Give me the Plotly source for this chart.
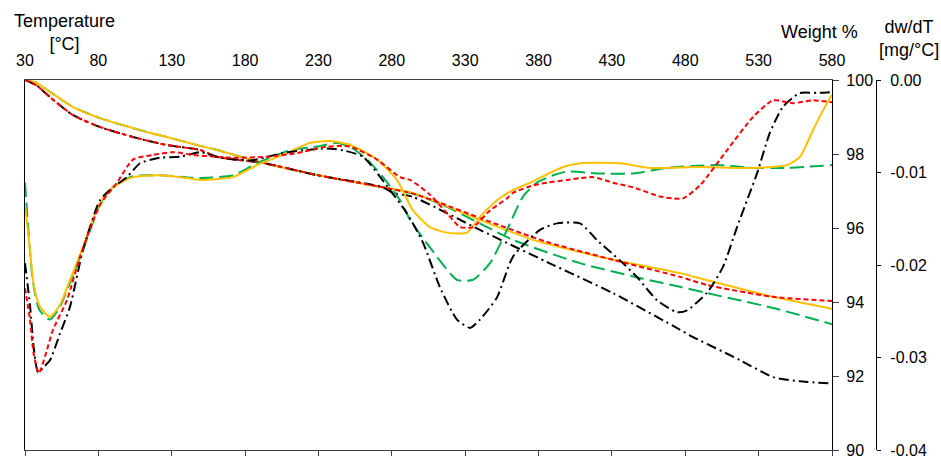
import plotly.graph_objects as go

# ---------------- data ----------------
x_ticks = [30, 80, 130, 180, 230, 280, 330, 380, 430, 480, 530, 580]
w_ticks = [90, 92, 94, 96, 98, 100]
d_ticks = [-0.04, -0.03, -0.02, -0.01, 0.0]
d_tick_text = ["-0.04", "-0.03", "-0.02", "-0.01", "0.00"]

# TG curves (Weight %)
black_tg_t = [30, 38, 47, 62.7, 81.1, 103.6, 126.8, 149.3, 160.9, 192.2, 229, 274, 280.8, 294.4, 340, 385.8, 430.7, 476.4, 483, 517.3, 539.8, 560, 580]
black_tg_w = [100, 99.85, 99.54, 99.05, 98.73, 98.46, 98.24, 98.11, 97.92, 97.76, 97.43, 97.10, 96.95, 96.84, 95.95, 95.08, 94.24, 93.25, 93.1, 92.43, 91.97, 91.85, 91.8]

red_tg_t = [30, 38, 47, 62.7, 81.1, 103.6, 126.8, 149.3, 160.9, 192.2, 229, 274, 294.4, 312.8, 340, 385.8, 430.7, 476.4, 494.8, 539.8, 580]
red_tg_w = [100, 99.85, 99.54, 99.05, 98.73, 98.46, 98.24, 98.11, 97.92, 97.76, 97.43, 97.10, 96.93, 96.68, 96.27, 95.62, 95.14, 94.68, 94.46, 94.14, 94.03]

orange_tg_t = [30, 38, 47, 62.7, 81.1, 103.6, 115.2, 126.8, 149.3, 160.9, 192.2, 229, 274, 294.4, 340, 376.2, 430.7, 449, 476.4, 494.8, 539.8, 580]
orange_tg_w = [100, 99.92, 99.68, 99.27, 98.97, 98.70, 98.57, 98.46, 98.22, 98.11, 97.76, 97.43, 97.10, 96.95, 96.22, 95.68, 95.14, 95.0, 94.78, 94.59, 94.14, 93.82]

green_tg_t = [30, 38, 47, 62.7, 81.1, 103.6, 115.2, 126.8, 149.3, 160.9, 192.2, 229, 274, 294.4, 317.6, 362.6, 408.2, 449, 476.4, 494.8, 539.8, 580]
green_tg_w = [100, 99.92, 99.68, 99.27, 98.97, 98.70, 98.57, 98.46, 98.22, 98.11, 97.76, 97.43, 97.10, 96.93, 96.57, 95.68, 95.05, 94.65, 94.41, 94.24, 93.84, 93.40]

# DTG curves (dw/dT, mg/°C)
black_dtg_t = [30, 33.5, 36, 38.9, 43, 47, 53.9, 60.7, 69.5, 81.1, 90, 99.5, 108.4, 122, 135.6, 149.3, 160.9, 183.3, 205.8, 219.5, 235.8, 246.7, 260.4, 278.8, 290.3, 301.3, 312.8, 324.4, 333.3, 340.1, 351.7, 362.6, 381, 392.6, 408.3, 419.8, 435.5, 447.1, 460.7, 474.4, 481.2, 494.8, 505.7, 515.3, 522.1, 528.9, 537.7, 546.6, 558.2, 569.8, 580]
black_dtg_v = [-0.0198, -0.0245, -0.0290, -0.0316, -0.0310, -0.0303, -0.0274, -0.0245, -0.0184, -0.0130, -0.0116, -0.0105, -0.0090, -0.0084, -0.0083, -0.0078, -0.0083, -0.0087, -0.0079, -0.0076, -0.0074, -0.0076, -0.0083, -0.0119, -0.0144, -0.0176, -0.0224, -0.0259, -0.0268, -0.0259, -0.0235, -0.0191, -0.0162, -0.0155, -0.0155, -0.0173, -0.0195, -0.0213, -0.0238, -0.0251, -0.0249, -0.0230, -0.0202, -0.0159, -0.0130, -0.0101, -0.0057, -0.0029, -0.0014, -0.0014, -0.0013]

red_dtg_t = [30, 33.4, 36, 39.5, 44, 49.1, 58.6, 67.5, 81.1, 92.7, 103.6, 117.2, 130.9, 144.5, 160, 171.8, 194.9, 215.4, 235.8, 251.5, 269.9, 285.6, 292.4, 306, 317.6, 326.5, 335.3, 346.9, 358.5, 362.6, 376.2, 385.8, 399.4, 408.3, 417.1, 430.7, 444.4, 462.8, 471.6, 478.5, 490, 508.4, 526.2, 539.8, 553.4, 567.1, 580]
red_dtg_v = [-0.0225, -0.0259, -0.0297, -0.0317, -0.0297, -0.0270, -0.0238, -0.0191, -0.0135, -0.0111, -0.0086, -0.0081, -0.0078, -0.0081, -0.0083, -0.0084, -0.0083, -0.0079, -0.0072, -0.0072, -0.0086, -0.0105, -0.0108, -0.0124, -0.0144, -0.0159, -0.0159, -0.0141, -0.0128, -0.0122, -0.0114, -0.0111, -0.0108, -0.0106, -0.0105, -0.0111, -0.0116, -0.0126, -0.0128, -0.0128, -0.0114, -0.0076, -0.0040, -0.0022, -0.0025, -0.0022, -0.0024]

orange_dtg_t = [30, 33.4, 36, 40.2, 47, 53.9, 60.7, 67.5, 81.1, 90, 103.6, 122, 140.4, 149.3, 171.8, 188.1, 205.8, 224.2, 237.9, 251.5, 269.9, 283.5, 294.4, 306, 317.6, 331.2, 340.1, 351.7, 362.6, 374.2, 396.7, 408.3, 435.5, 456, 490, 524.1, 549.3, 558.2, 567.1, 576.6, 580]
orange_dtg_v = [-0.0135, -0.0184, -0.0222, -0.0245, -0.0256, -0.0243, -0.0216, -0.0189, -0.0133, -0.0116, -0.0105, -0.0103, -0.0106, -0.0108, -0.0105, -0.0092, -0.0081, -0.0068, -0.0066, -0.0070, -0.0086, -0.0108, -0.0141, -0.0159, -0.0165, -0.0165, -0.0148, -0.0130, -0.0119, -0.0111, -0.0094, -0.0090, -0.0090, -0.0095, -0.0094, -0.0095, -0.0092, -0.0083, -0.0054, -0.0025, -0.0016]

green_dtg_t = [30, 35.5, 40, 47, 53.9, 58.6, 69.5, 81.1, 90, 103.6, 122, 149.3, 171.8, 188.1, 210.6, 229, 242.6, 251.5, 263.1, 274, 285.6, 292.4, 306, 324.4, 335.3, 346.9, 358.5, 369.4, 378.9, 389.9, 399.4, 419.8, 444.4, 467.5, 501.6, 526.2, 549.3, 580]
green_dtg_v = [-0.0111, -0.0219, -0.0249, -0.0259, -0.0245, -0.0227, -0.0184, -0.0135, -0.0116, -0.0104, -0.0103, -0.0106, -0.0103, -0.0090, -0.0076, -0.0072, -0.0068, -0.0072, -0.0086, -0.0105, -0.0130, -0.0151, -0.0181, -0.0216, -0.0216, -0.0198, -0.0162, -0.0126, -0.0111, -0.0103, -0.0099, -0.0101, -0.0101, -0.0095, -0.0092, -0.0095, -0.0095, -0.0092]

# ---------------- styles ----------------
BLACK = "#000000"
RED = "#FF0000"
GREEN = "#00B050"
ORANGE = "#FFC000"
black_dash = "10px,4px,2px,4px"
red_dash = "5px,3px"
green_dash = "14px,6px"
FONT = "Liberation Sans, Arial, sans-serif"
TICK_SIZE = 16
TITLE_SIZE = 18

fig = go.Figure()

def add(t, v, color, dash, yaxis):
    fig.add_trace(go.Scatter(x=t, y=v, mode="lines", yaxis=yaxis, xaxis="x",
                             line=dict(color=color, width=2, dash=dash, shape="spline", smoothing=0.6),
                             showlegend=False, hoverinfo="skip"))

# DTG curves
add(green_dtg_t, green_dtg_v, GREEN, green_dash, "y2")
add(orange_dtg_t, orange_dtg_v, ORANGE, "solid", "y2")
add(black_dtg_t, black_dtg_v, BLACK, black_dash, "y2")
add(red_dtg_t, red_dtg_v, RED, red_dash, "y2")
# TG curves
add(green_tg_t, green_tg_w, GREEN, green_dash, "y")
add(orange_tg_t, orange_tg_w, ORANGE, "solid", "y")
add(black_tg_t, black_tg_w, BLACK, black_dash, "y")
add(red_tg_t, red_tg_w, RED, red_dash, "y")

# invisible trace for bottom tick axis
fig.add_trace(go.Scatter(x=[x_ticks[0], x_ticks[-1]], y=[w_ticks[0], w_ticks[0]], xaxis="x2", yaxis="y",
                         mode="lines", line=dict(width=0), showlegend=False, hoverinfo="skip"))

W, H = 941, 457
L, R, T, B = 25, 832, 80, 450
xdom_end = (R - L) / (W - L)
pos_d = (876 - L) / (W - L)

fig.update_layout(
    width=W, height=H, autosize=False,
    margin=dict(l=L, r=0, t=T, b=H - B, pad=0, autoexpand=False),
    paper_bgcolor="white", plot_bgcolor="white",
    font=dict(family=FONT, size=TICK_SIZE, color="black"),
    xaxis=dict(domain=[0, xdom_end], range=[30, 580], side="top",
               tickvals=x_ticks, ticktext=[str(v) for v in x_ticks],
               showline=True, linecolor="#404040", linewidth=1.3, mirror=True,
               ticks="", showgrid=False, zeroline=False, ticklabelstandoff=6,
               automargin=False, ticklabeloverflow="allow"),
    xaxis2=dict(domain=[0, xdom_end], range=[30, 580], overlaying="x", side="bottom", anchor="y",
                tickvals=x_ticks, showticklabels=False, ticks="outside", ticklen=5,
                tickcolor="#404040", tickwidth=1.3, showline=False, showgrid=False, zeroline=False,
                automargin=False),
    yaxis=dict(range=[90, 100], side="right", anchor="x", tickvals=w_ticks,
               ticktext=[str(v) for v in w_ticks],
               showline=True, linecolor="black", linewidth=1.3, mirror=True,
               ticks="outside", ticklen=6, tickcolor="#404040", tickwidth=1.3,
               showgrid=False, zeroline=False, ticklabelstandoff=4,
               automargin=False, ticklabeloverflow="allow"),
    yaxis2=dict(range=[-0.04, 0.0], overlaying="y", side="right", anchor="free", position=pos_d,
                tickvals=d_ticks, ticktext=d_tick_text,
                showline=True, linecolor="black", linewidth=1.3,
                ticks="outside", ticklen=4, tickcolor="black", tickwidth=1.3,
                showgrid=False, zeroline=False, ticklabelstandoff=6,
                automargin=False, ticklabeloverflow="allow"),
)

def label(text, px, py):
    fig.add_annotation(text=text, xref="paper", yref="paper",
                       x=(px - L) / (W - L), y=(B - py) / (B - T),
                       xanchor="center", yanchor="middle", showarrow=False,
                       align="center", font=dict(family=FONT, size=TITLE_SIZE, color="black"))

label("Temperature<br>[°C]", 64, 33)
label("Weight %", 819, 32)
label("dw/dT<br>[mg/°C]", 909, 38)

fig.write_html("out.html")
